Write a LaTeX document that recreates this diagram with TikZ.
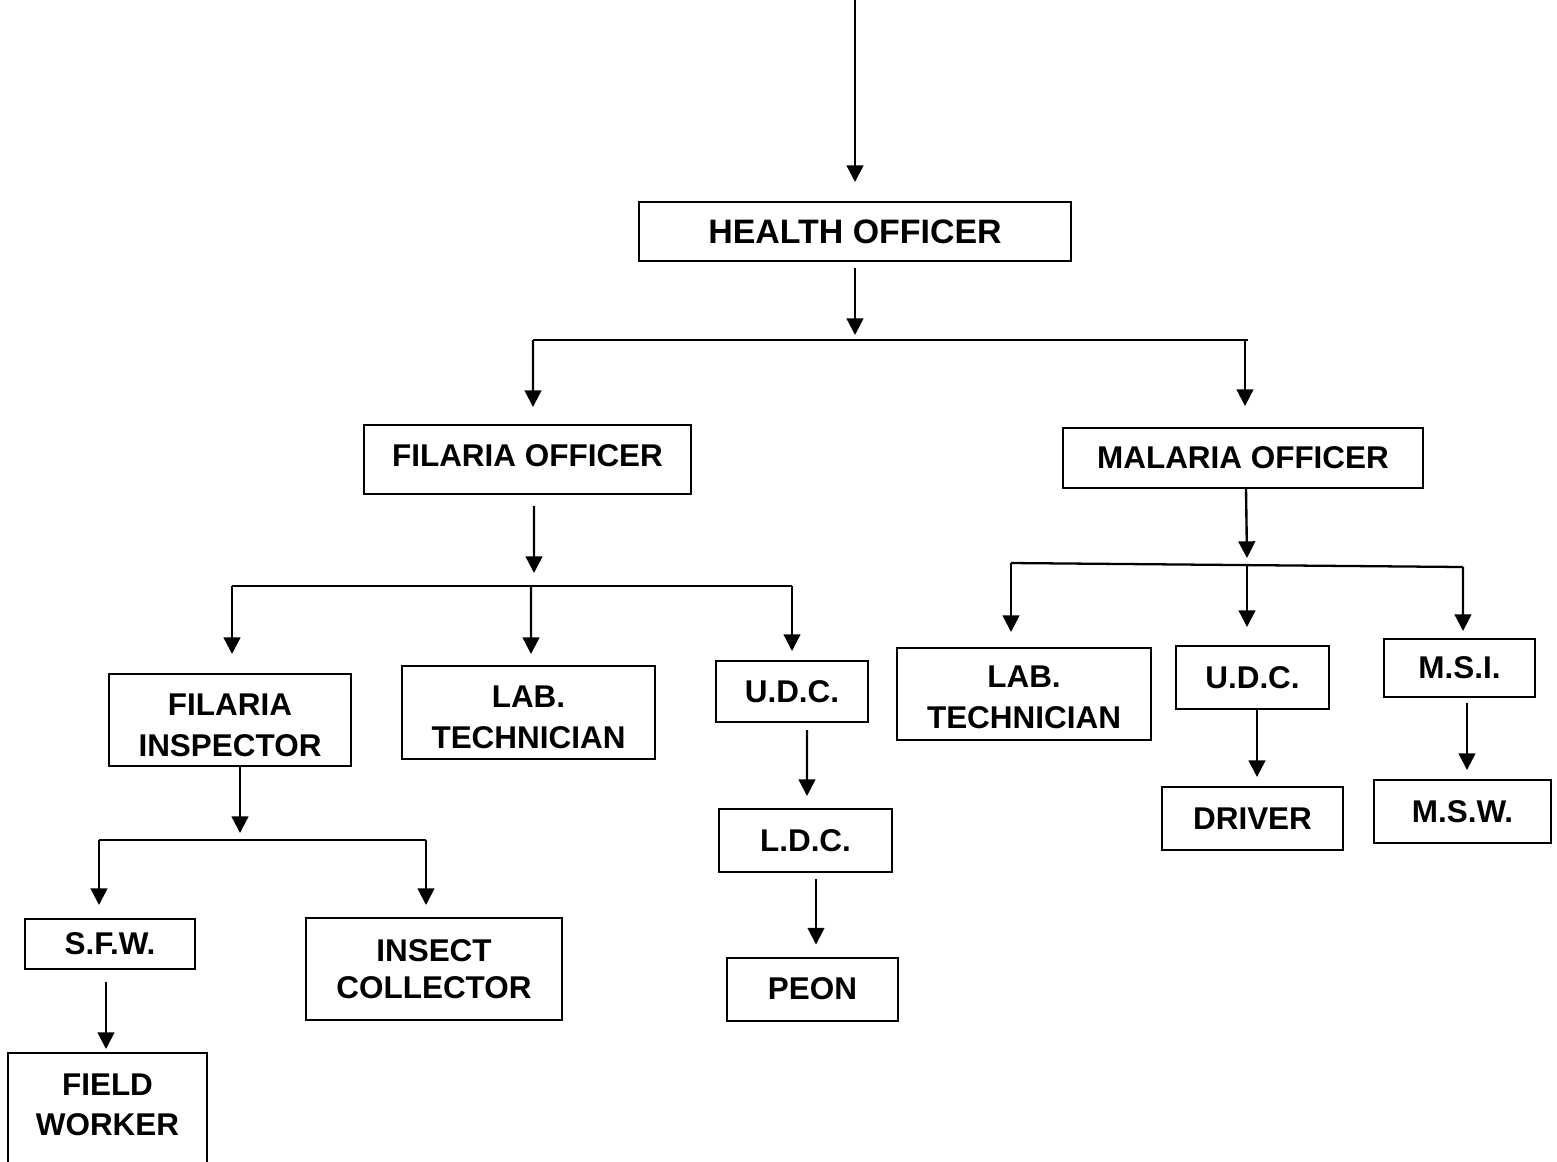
\documentclass[tikz,border=0pt]{standalone}
\usepackage{fontspec}
\setmainfont{Liberation Sans}
\usetikzlibrary{arrows.meta,calc}
\begin{document}
\begin{tikzpicture}[x=0.02cm,y=-0.02cm,
  box/.style={draw,line width=1.15pt,inner sep=0pt,align=center,
    font=\bfseries\fontsize{17.9}{23.2}\selectfont},
  ln/.style={line width=1.3pt},
  arr/.style={line width=1.35pt,-{Triangle[width=9.5pt,length=9.5pt]}}]
\useasboundingbox (0,0) rectangle (1557,1161);
\clip (0,0) rectangle (1557,1161);
% boxes
\node[box,minimum width=8.64cm,minimum height=1.18cm,font=\bfseries\fontsize{19.3}{23.2}\selectfont] (ho) at (855,231.5) {HEALTH OFFICER};
\node[box,minimum width=6.54cm,minimum height=1.38cm] (fo) at (527.5,459.5) {FILARIA OFFICER\rule[-5pt]{0pt}{5pt}};
\node[box,minimum width=7.20cm,minimum height=1.20cm] (mo) at (1243,458) {MALARIA OFFICER};
\node[box,minimum width=4.84cm,minimum height=1.84cm] (fi) at (230,720) {\rule{0pt}{18pt}FILARIA\\INSPECTOR};
\node[box,minimum width=5.06cm,minimum height=1.86cm] (lt1) at (528.5,712.5) {\rule{0pt}{18pt}LAB.\\TECHNICIAN};
\node[box,minimum width=3.04cm,minimum height=1.22cm] (udc1) at (792,691.5) {U.D.C.};
\node[box,minimum width=3.46cm,minimum height=1.26cm] (ldc) at (805.5,840.5) {L.D.C.};
\node[box,minimum width=3.42cm,minimum height=1.26cm] (peon) at (812.5,989) {PEON};
\node[box,minimum width=3.40cm,minimum height=1.00cm] (sfw) at (110,944) {S.F.W.};
\node[box,minimum width=5.12cm,minimum height=2.04cm,font=\bfseries\fontsize{17.9}{21}\selectfont] (ic) at (434,969) {INSECT\\COLLECTOR};
\node[box,minimum width=3.98cm,minimum height=2.88cm,anchor=north] (fw) at (107.5,1052) {FIELD\\WORKER\\\mbox{}};
\node[box,minimum width=5.08cm,minimum height=1.84cm] (lt2) at (1024,694) {\rule{0pt}{16pt}LAB.\\TECHNICIAN};
\node[box,minimum width=3.06cm,minimum height=1.26cm] (udc2) at (1252.5,677.5) {U.D.C.};
\node[box,minimum width=3.62cm,minimum height=1.26cm] (driver) at (1252.5,818.5) {DRIVER};
\node[box,minimum width=3.02cm,minimum height=1.16cm] (msi) at (1459.5,668) {M.S.I.};
\node[box,minimum width=3.54cm,minimum height=1.26cm] (msw) at (1462.5,811.5) {M.S.W.};
% bus coordinates
\coordinate (top) at (855,-5);
\coordinate (b1) at (855,340);
\coordinate (b1l) at (533,340);
\coordinate (b1r) at (1245,340);
\coordinate (b2) at (534,586);
\coordinate (b2l) at (232,586);
\coordinate (b2m) at (531,586);
\coordinate (b2r) at (792,586);
\coordinate (b3) at (240,840);
\coordinate (b3l) at (99,840);
\coordinate (b3r) at (426,840);
\coordinate (b4) at (1247,565);
\coordinate (b4l) at (1011,563);
\coordinate (b4r) at (1463,567);
% connectors
\draw[arr] (top) -- ($(ho.north)+(0,-19)$);
\draw[arr] ($(ho.south)+(0,6)$) -- ($(b1)+(0,-5)$);
\draw[ln] (b1l) -- ($(b1r)+(3,0)$);
\draw[arr] (b1l) -- ($(fo.north)+(5.5,-17)$);
\draw[arr] (b1r) -- ($(mo.north)+(2,-21)$);
\draw[arr] ($(fo.south)+(6.5,11)$) -- ($(b2)+(0,-13)$);
\draw[ln] (b2l) -- (b2r);
\draw[arr] (b2l) -- ($(fi.north)+(2,-19)$);
\draw[arr] (b2m) -- ($(lt1.north)+(2.5,-11)$);
\draw[arr] (b2r) -- ($(udc1.north)+(0,-9)$);
\draw[arr] ($(udc1.south)+(15,7)$) -- ($(ldc.north)+(1.5,-12)$);
\draw[arr] ($(ldc.south)+(10.5,6)$) -- ($(peon.north)+(3.5,-12)$);
\draw[arr] ($(fi.south)+(10,0)$) -- ($(b3)+(0,-7)$);
\draw[ln] (b3l) -- (b3r);
\draw[arr] (b3l) -- ($(sfw.north)+(-11,-13)$);
\draw[arr] (b3r) -- ($(ic.north)+(-8,-12)$);
\draw[arr] ($(sfw.south)+(-4,12)$) -- ($(fw.north)+(-1.5,-3)$);
\draw[arr] ($(mo.south)+(3,0)$) -- ($(b4)+(0,-7)$);
\draw[ln] (b4l) -- (b4r);
\draw[arr] (b4l) -- ($(lt2.north)+(-13,-15)$);
\draw[arr] (b4) -- ($(udc2.north)+(-5.5,-18)$);
\draw[arr] (b4r) -- ($(msi.north)+(3.5,-7)$);
\draw[arr] ($(udc2.south)+(4.5,0)$) -- ($(driver.north)+(4.5,-9)$);
\draw[arr] ($(msi.south)+(7.5,5)$) -- ($(msw.north)+(4.5,-9)$);
\end{tikzpicture}
\end{document}
